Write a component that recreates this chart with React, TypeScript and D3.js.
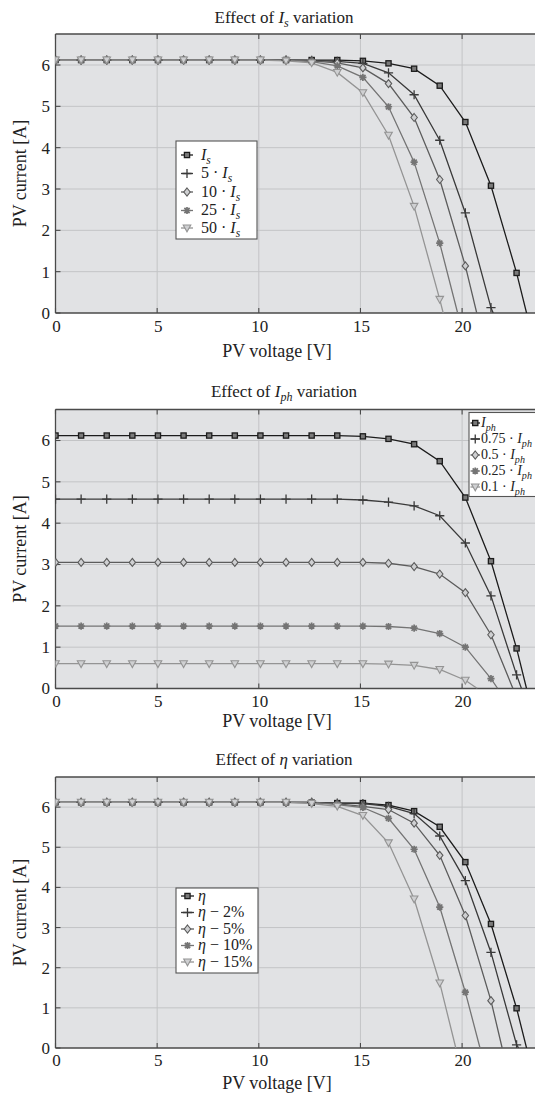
import React from "react";
import * as d3 from "d3";

// ---------- data ----------
const VOLTAGE = [0, 1.26, 2.52, 3.78, 5.04, 6.3, 7.56, 8.82, 10.08, 11.34, 12.6, 13.86, 15.12, 16.38, 17.64, 18.9, 20.16, 21.42, 22.68];
const X_TICKS = [0, 5, 10, 15, 20];
const Y_TICKS = [0, 1, 2, 3, 4, 5, 6];

// Panel 1: effect of Is
const IS_1 = [6.12, 6.12, 6.12, 6.12, 6.12, 6.12, 6.12, 6.12, 6.12, 6.12, 6.12, 6.12, 6.1, 6.04, 5.91, 5.5, 4.62, 3.08, 0.97];
const IS_5 = [6.12, 6.12, 6.12, 6.12, 6.12, 6.12, 6.12, 6.12, 6.12, 6.12, 6.11, 6.09, 6.04, 5.81, 5.28, 4.18, 2.42, 0.13];
const IS_10 = [6.12, 6.12, 6.12, 6.12, 6.12, 6.12, 6.12, 6.12, 6.12, 6.12, 6.1, 6.05, 5.93, 5.55, 4.73, 3.23, 1.14];
const IS_25 = [6.12, 6.12, 6.12, 6.12, 6.12, 6.12, 6.12, 6.12, 6.12, 6.12, 6.08, 5.98, 5.7, 4.99, 3.65, 1.69];
const IS_50 = [6.12, 6.12, 6.12, 6.12, 6.12, 6.12, 6.12, 6.12, 6.12, 6.1, 6.05, 5.82, 5.33, 4.3, 2.58, 0.33];
const VOC_IS = [23.17, 21.53, 20.72, 19.78, 19.07];

// Panel 2: effect of Iph
const IPH_100 = [6.12, 6.12, 6.12, 6.12, 6.12, 6.12, 6.12, 6.12, 6.12, 6.12, 6.12, 6.12, 6.1, 6.04, 5.91, 5.5, 4.62, 3.08, 0.97];
const IPH_75 = [4.58, 4.58, 4.58, 4.58, 4.58, 4.58, 4.58, 4.58, 4.58, 4.58, 4.58, 4.58, 4.56, 4.51, 4.42, 4.18, 3.52, 2.24, 0.33];
const IPH_50 = [3.05, 3.05, 3.05, 3.05, 3.05, 3.05, 3.05, 3.05, 3.05, 3.05, 3.05, 3.05, 3.05, 3.03, 2.95, 2.77, 2.32, 1.3];
const IPH_25 = [1.51, 1.51, 1.51, 1.51, 1.51, 1.51, 1.51, 1.51, 1.51, 1.51, 1.51, 1.51, 1.51, 1.5, 1.46, 1.33, 1.0, 0.24];
const IPH_10 = [0.6, 0.6, 0.6, 0.6, 0.6, 0.6, 0.6, 0.6, 0.6, 0.6, 0.6, 0.6, 0.6, 0.59, 0.56, 0.46, 0.2];
const VOC_IPH = [23.17, 22.92, 22.5, 21.75, 20.75];

// Panel 3: effect of eta
const ETA_0 = [6.12, 6.12, 6.12, 6.12, 6.12, 6.12, 6.12, 6.12, 6.12, 6.12, 6.11, 6.1, 6.1, 6.05, 5.9, 5.51, 4.63, 3.09, 0.99];
const ETA_2 = [6.12, 6.12, 6.12, 6.12, 6.12, 6.12, 6.12, 6.12, 6.12, 6.12, 6.12, 6.1, 6.09, 6.02, 5.84, 5.28, 4.17, 2.38, 0.08];
const ETA_5 = [6.12, 6.12, 6.12, 6.12, 6.12, 6.12, 6.12, 6.12, 6.12, 6.12, 6.12, 6.08, 6.02, 5.94, 5.6, 4.8, 3.3, 1.18];
const ETA_10 = [6.12, 6.12, 6.12, 6.12, 6.12, 6.12, 6.12, 6.12, 6.12, 6.12, 6.12, 6.06, 5.99, 5.72, 4.95, 3.51, 1.39];
const ETA_15 = [6.12, 6.12, 6.12, 6.12, 6.12, 6.12, 6.12, 6.12, 6.12, 6.12, 6.09, 6.02, 5.79, 5.11, 3.71, 1.62];
const VOC_ETA = [23.17, 22.78, 21.97, 20.88, 19.69];

// legend labels: [prefix, italic symbol, subscript, suffix]
const LEG_IS = [["", "I", "s", ""], ["5 · ", "I", "s", ""], ["10 · ", "I", "s", ""], ["25 · ", "I", "s", ""], ["50 · ", "I", "s", ""]];
const LEG_IPH = [["", "I", "ph", ""], ["0.75 · ", "I", "ph", ""], ["0.5 · ", "I", "ph", ""], ["0.25 · ", "I", "ph", ""], ["0.1 · ", "I", "ph", ""]];
const LEG_ETA = [["", "η", "", ""], ["", "η", "", " − 2%"], ["", "η", "", " − 5%"], ["", "η", "", " − 10%"], ["", "η", "", " − 15%"]];

// ---------- styles ----------
const COLORS = ["#1c1c1c", "#3a3a3a", "#5c5c5c", "#747474", "#949494"];
const MARKERS = ["square", "plus", "diamond", "asterisk", "triangle"];
const FONT = "'Times New Roman', 'Liberation Serif', Times, serif";
const BG = "#e1e2e4";
const GRID = "#c3c4c6";
const FRAME = "#4a4a4a";

function Marker({ kind, x, y, color }: { kind: string; x: number; y: number; color: string }) {
  const t = `translate(${x},${y})`;
  switch (kind) {
    case "square":
      return <rect x={x - 2.6} y={y - 2.6} width={5.2} height={5.2} fill="#7a7a7a" stroke={color} strokeWidth={1.3} />;
    case "plus":
      return <path transform={t} d="M-4.6,0H4.6M0,-4.6V4.6" stroke={color} strokeWidth={1.3} fill="none" />;
    case "diamond":
      return <path transform={t} d="M0,-4L3.2,0L0,4L-3.2,0Z" stroke={color} strokeWidth={1.1} fill="#cfd0d2" />;
    case "asterisk":
      return <path transform={t} d="M-3.6,0H3.6M0,-3.6V3.6M-2.6,-2.6L2.6,2.6M-2.6,2.6L2.6,-2.6" stroke={color} strokeWidth={1.7} fill="none" />;
    case "triangle":
      return <path transform={t} d="M-3.8,-3L3.8,-3L0,3.8Z" stroke={color} strokeWidth={1.1} fill="#cfd0d2" />;
  }
  return null;
}

function Label({ seg, x, y, size }: { seg: string[]; x: number; y: number; size: number }) {
  const [pre, sym, sub, post] = seg;
  return (
    <text x={x} y={y} fontFamily={FONT} fontSize={size} fill="#222">
      {pre}
      <tspan fontStyle="italic">{sym}</tspan>
      {sub ? (
        <tspan fontStyle="italic" fontSize={size * 0.72} dy={size * 0.25}>
          {sub}
        </tspan>
      ) : null}
      {post ? <tspan dy={sub ? -size * 0.25 : 0}>{post}</tspan> : null}
    </text>
  );
}

type PanelProps = {
  top: number;
  bottom: number;
  titleY: number;
  tickY: number;
  xlabelY: number;
  title: string[];
  series: number[][];
  voc: number[];
  legend: string[][];
  legendBox: { x: number; y: number; w: number; h: number; rows: number[]; size: number; lx0: number; lx1: number; tx: number };
};

const LEFT = 55.5;
const PX_PER_V = 20.33;

function Panel(p: PanelProps) {
  const x = d3.scaleLinear().domain([0, 24]).range([LEFT, LEFT + 24 * PX_PER_V]);
  const y = d3.scaleLinear().domain([0, 6.75]).range([p.bottom, p.top]);
  const line = d3
    .line<[number, number]>()
    .x((d) => x(d[0]))
    .y((d) => y(d[1]));
  const right = 540;
  const clipId = `clip-${Math.round(p.top)}`;
  return (
    <g>
      <defs>
        <clipPath id={clipId}>
          <rect x={LEFT} y={p.top} width={right - LEFT} height={p.bottom - p.top} />
        </clipPath>
      </defs>
      <rect x={LEFT} y={p.top} width={right - LEFT} height={p.bottom - p.top} fill={BG} />
      {X_TICKS.filter((v) => v > 0).map((v) => (
        <line key={"gx" + v} x1={x(v)} x2={x(v)} y1={p.top} y2={p.bottom} stroke={GRID} strokeWidth={1} />
      ))}
      {Y_TICKS.filter((v) => v > 0).map((v) => (
        <line key={"gy" + v} x1={LEFT} x2={right} y1={y(v)} y2={y(v)} stroke={GRID} strokeWidth={1} />
      ))}
      {/* frame */}
      <line x1={LEFT} x2={right} y1={p.top} y2={p.top} stroke={FRAME} strokeWidth={1.3} />
      <line x1={LEFT} x2={right} y1={p.bottom} y2={p.bottom} stroke={FRAME} strokeWidth={1.3} />
      <line x1={LEFT} x2={LEFT} y1={p.top} y2={p.bottom} stroke={FRAME} strokeWidth={1.3} />
      {X_TICKS.map((v) => (
        <g key={"tx" + v}>
          <line x1={x(v)} x2={x(v)} y1={p.bottom} y2={p.bottom - 5} stroke={FRAME} strokeWidth={1.1} />
          <line x1={x(v)} x2={x(v)} y1={p.top} y2={p.top + 5} stroke={FRAME} strokeWidth={1.1} />
          <text x={x(v) + 1} y={p.tickY} textAnchor="middle" fontFamily={FONT} fontSize={17} fill="#222">
            {v}
          </text>
        </g>
      ))}
      {Y_TICKS.map((v) => (
        <g key={"ty" + v}>
          <line x1={LEFT} x2={LEFT + 5} y1={y(v)} y2={y(v)} stroke={FRAME} strokeWidth={1.1} />
          <text x={50} y={y(v)} dy="0.35em" textAnchor="end" fontFamily={FONT} fontSize={17} fill="#222">
            {v}
          </text>
        </g>
      ))}
      <g clipPath={`url(#${clipId})`}>
        {p.series.map((s, k) => {
          const pts: [number, number][] = s.map((v, i) => [VOLTAGE[i], v]);
          pts.push([p.voc[k], 0]);
          return <path key={"l" + k} d={line(pts) || ""} fill="none" stroke={COLORS[k]} strokeWidth={1.3} />;
        })}
        {p.series.map((s, k) => (
          <g key={"m" + k}>
            {s.map((v, i) => (
              <Marker key={i} kind={MARKERS[k]} x={x(VOLTAGE[i])} y={y(v)} color={COLORS[k]} />
            ))}
          </g>
        ))}
      </g>
      {/* legend */}
      <rect x={p.legendBox.x} y={p.legendBox.y} width={p.legendBox.w} height={p.legendBox.h} fill="#fff" stroke="#555" strokeWidth={1.1} />
      {p.legend.map((seg, k) => {
        const ry = p.legendBox.rows[k];
        const lb = p.legendBox;
        return (
          <g key={"lg" + k}>
            <line x1={lb.lx0} x2={lb.lx1} y1={ry} y2={ry} stroke={COLORS[k]} strokeWidth={1.3} />
            <Marker kind={MARKERS[k]} x={(lb.lx0 + lb.lx1) / 2} y={ry} color={COLORS[k]} />
            <Label seg={seg} x={lb.tx} y={ry + lb.size * 0.3} size={lb.size} />
          </g>
        );
      })}
      {/* title */}
      <text x={284} y={p.titleY} textAnchor="middle" fontFamily={FONT} fontSize={17} fill="#222">
        {p.title[0]}
        <tspan fontStyle="italic">{p.title[1]}</tspan>
        {p.title[2] ? (
          <tspan fontStyle="italic" fontSize={12} dy={4}>
            {p.title[2]}
          </tspan>
        ) : null}
        <tspan dy={p.title[2] ? -4 : 0}>{p.title[3]}</tspan>
      </text>
      <text x={277} y={p.xlabelY} textAnchor="middle" fontFamily={FONT} fontSize={18} fill="#222">
        PV voltage [V]
      </text>
      <text
        transform={`translate(26,${(p.top + p.bottom) / 2}) rotate(-90)`}
        textAnchor="middle"
        fontFamily={FONT}
        fontSize={18}
        fill="#222"
      >
        PV current [A]
      </text>
    </g>
  );
}

export default function App() {
  return (
    <svg width={535} height={1095} style={{ position: "absolute", left: 0, top: 0, background: "#fff" }}>
      <rect x={0} y={0} width={535} height={1095} fill="#fff" />
      <Panel
        top={34}
        bottom={313}
        titleY={23}
        tickY={332}
        xlabelY={357}
        title={["Effect of ", "I", "s", " variation"]}
        series={[IS_1, IS_5, IS_10, IS_25, IS_50]}
        voc={VOC_IS}
        legend={LEG_IS}
        legendBox={{ x: 176, y: 141, w: 81, h: 98, rows: [155, 173.5, 192, 210.5, 228], size: 16, lx0: 181, lx1: 193, tx: 201 }}
      />
      <Panel
        top={409.5}
        bottom={688.5}
        titleY={397}
        tickY={707}
        xlabelY={727}
        title={["Effect of ", "I", "ph", " variation"]}
        series={[IPH_100, IPH_75, IPH_50, IPH_25, IPH_10]}
        voc={VOC_IPH}
        legend={LEG_IPH}
        legendBox={{ x: 469, y: 412.5, w: 80, h: 84, rows: [423, 439, 455, 471, 487], size: 14, lx0: 470.5, lx1: 480, tx: 481 }}
      />
      <Panel
        top={777}
        bottom={1048}
        titleY={765}
        tickY={1066}
        xlabelY={1089}
        title={["Effect of ", "η", "", " variation"]}
        series={[ETA_0, ETA_2, ETA_5, ETA_10, ETA_15]}
        voc={VOC_ETA}
        legend={LEG_ETA}
        legendBox={{ x: 176, y: 888, w: 82, h: 85, rows: [896, 912.5, 929, 945.5, 962], size: 16, lx0: 181, lx1: 194, tx: 198 }}
      />
    </svg>
  );
}
